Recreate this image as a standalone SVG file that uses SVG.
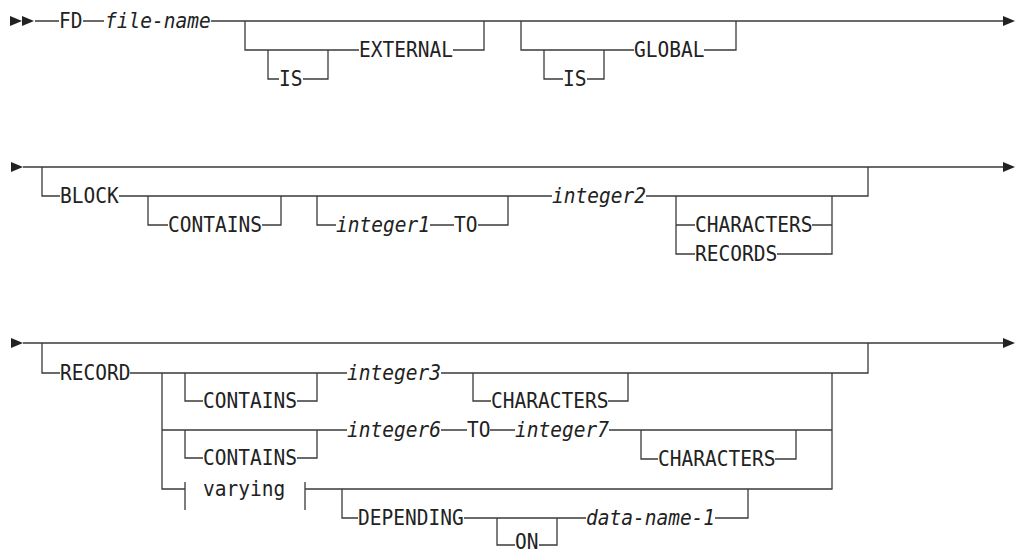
<svg xmlns="http://www.w3.org/2000/svg" xmlns:xlink="http://www.w3.org/1999/xlink" width="1017" height="554" viewBox="0 0 1017 554">
<style>
.t{font-family:"DejaVu Sans Mono","Liberation Mono",monospace;font-size:21px;fill:#222}
.i{font-style:italic}
.ln{fill:none;stroke:#3a3a3a;stroke-width:1.3}
.ah{fill:#222}
</style>
<defs>
<polygon id="ar" points="0,-5 12,0 0,5"/>
</defs>
<rect width="1017" height="554" fill="#fff"/>
<g id="connectors">
<path class="ln" d="M35 21H59M83 21H104M211 21H1003M245 21V50H359M268 50V79H279M303 79H328V50M453 50H484V21M521 21V50H634M544 50V79H563M587 79H604V50M704 50H736V21"/>
<path class="ln" d="M23 167H1003M42 167V196H60M119 196H552M646 196H868V167M148 196V225H168M262 225H281V196M317 196V225H336M430 225H454M478 225H508V196M676 196V254H695M676 225H695M812 225H832M777 254H832V196"/>
<path class="ln" d="M23 343H1003M42 343V373H60M130 373H347M441 373H868V343M162 373V489H185M305 489H832V373M185 373V401H203M297 401H317V373M473 373V401H491M608 401H628V373M162 430H347M441 430H467M490 430H515M609 430H832M185 430V458H203M297 458H317V430M641 430V459H658M775 459H796V430M185 482V510M305 482V510M342 489V518H358M464 518H586M715 518H748V489M497 518V545H515M539 545H557V518"/>
<use xlink:href="#ar" class="ah" x="10" y="21"/>
<use xlink:href="#ar" class="ah" x="22" y="21"/>
<use xlink:href="#ar" class="ah" x="1003" y="21"/>
<use xlink:href="#ar" class="ah" x="11" y="167"/>
<use xlink:href="#ar" class="ah" x="1003" y="167"/>
<use xlink:href="#ar" class="ah" x="11" y="343"/>
<use xlink:href="#ar" class="ah" x="1003" y="343"/>
</g>
<g id="n-fd"><text class="t" x="59" y="28" textLength="23.5" lengthAdjust="spacingAndGlyphs">FD</text></g>
<g id="n-file-name"><text class="t i" x="105" y="28" textLength="105.7" lengthAdjust="spacingAndGlyphs">file-name</text></g>
<g id="n-is1"><text class="t" x="279" y="86" textLength="23.5" lengthAdjust="spacingAndGlyphs">IS</text></g>
<g id="n-external"><text class="t" x="359" y="57" textLength="93.9" lengthAdjust="spacingAndGlyphs">EXTERNAL</text></g>
<g id="n-is2"><text class="t" x="563" y="86" textLength="23.5" lengthAdjust="spacingAndGlyphs">IS</text></g>
<g id="n-global"><text class="t" x="634" y="57" textLength="70.4" lengthAdjust="spacingAndGlyphs">GLOBAL</text></g>
<g id="n-block"><text class="t" x="60" y="203" textLength="58.7" lengthAdjust="spacingAndGlyphs">BLOCK</text></g>
<g id="n-contains1"><text class="t" x="168" y="232" textLength="93.9" lengthAdjust="spacingAndGlyphs">CONTAINS</text></g>
<g id="n-integer1"><text class="t i" x="336" y="232" textLength="93.9" lengthAdjust="spacingAndGlyphs">integer1</text></g>
<g id="n-to1"><text class="t" x="454" y="232" textLength="23.5" lengthAdjust="spacingAndGlyphs">TO</text></g>
<g id="n-integer2"><text class="t i" x="552" y="203" textLength="93.9" lengthAdjust="spacingAndGlyphs">integer2</text></g>
<g id="n-characters1"><text class="t" x="695" y="232" textLength="117.4" lengthAdjust="spacingAndGlyphs">CHARACTERS</text></g>
<g id="n-records"><text class="t" x="695" y="261" textLength="82.2" lengthAdjust="spacingAndGlyphs">RECORDS</text></g>
<g id="n-record"><text class="t" x="60" y="380" textLength="70.4" lengthAdjust="spacingAndGlyphs">RECORD</text></g>
<g id="n-contains2"><text class="t" x="203" y="408" textLength="93.9" lengthAdjust="spacingAndGlyphs">CONTAINS</text></g>
<g id="n-integer3"><text class="t i" x="347" y="380" textLength="93.9" lengthAdjust="spacingAndGlyphs">integer3</text></g>
<g id="n-characters2"><text class="t" x="491" y="408" textLength="117.4" lengthAdjust="spacingAndGlyphs">CHARACTERS</text></g>
<g id="n-contains3"><text class="t" x="203" y="465" textLength="93.9" lengthAdjust="spacingAndGlyphs">CONTAINS</text></g>
<g id="n-integer6"><text class="t i" x="347" y="437" textLength="93.9" lengthAdjust="spacingAndGlyphs">integer6</text></g>
<g id="n-to2"><text class="t" x="467" y="437" textLength="23.5" lengthAdjust="spacingAndGlyphs">TO</text></g>
<g id="n-integer7"><text class="t i" x="515" y="437" textLength="93.9" lengthAdjust="spacingAndGlyphs">integer7</text></g>
<g id="n-characters3"><text class="t" x="658" y="466" textLength="117.4" lengthAdjust="spacingAndGlyphs">CHARACTERS</text></g>
<g id="n-varying"><text class="t" x="203" y="496" textLength="82.2" lengthAdjust="spacingAndGlyphs">varying</text></g>
<g id="n-depending"><text class="t" x="358" y="525" textLength="105.7" lengthAdjust="spacingAndGlyphs">DEPENDING</text></g>
<g id="n-on"><text class="t" x="515" y="549" textLength="23.5" lengthAdjust="spacingAndGlyphs">ON</text></g>
<g id="n-data-name-1"><text class="t i" x="586" y="525" textLength="129.1" lengthAdjust="spacingAndGlyphs">data-name-1</text></g>
</svg>
